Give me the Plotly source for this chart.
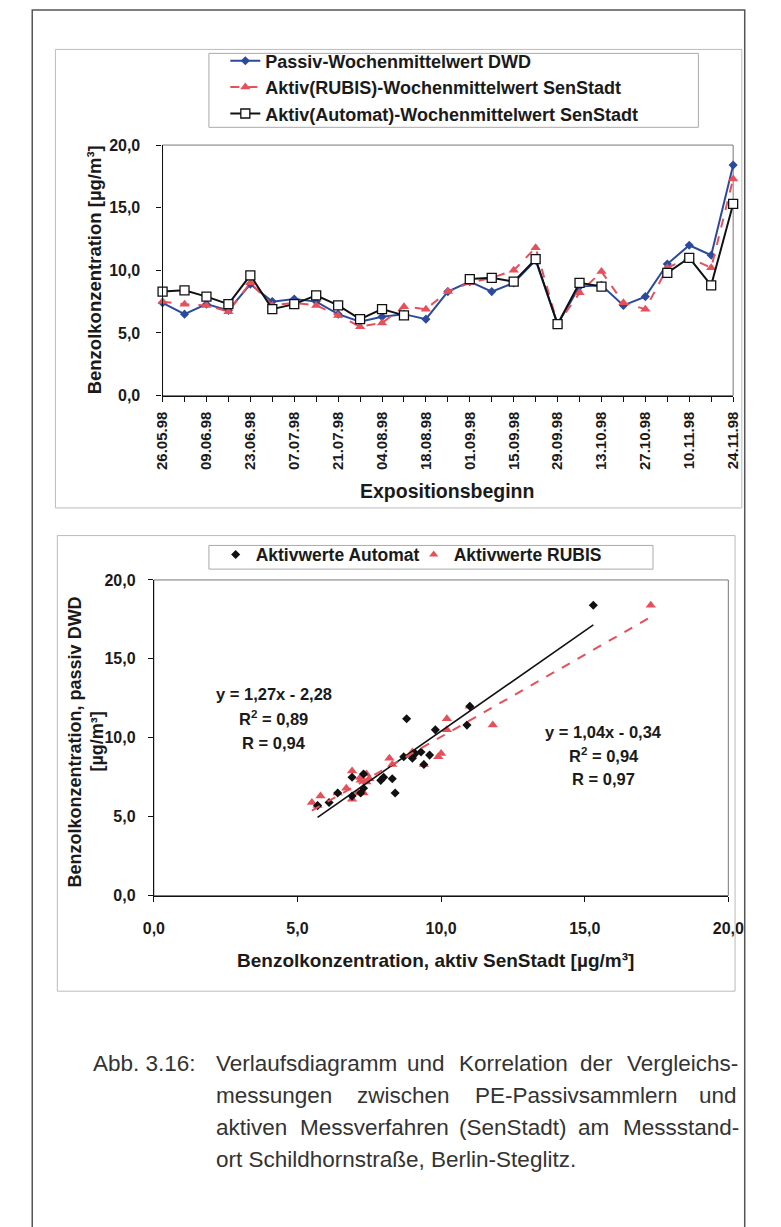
import plotly.graph_objects as go

W, H = 781, 1227

# ---------------- data ----------------
dates = ["26.05.98", "02.06.98", "09.06.98", "16.06.98", "23.06.98", "30.06.98",
         "07.07.98", "14.07.98", "21.07.98", "28.07.98", "04.08.98", "11.08.98",
         "18.08.98", "25.08.98", "01.09.98", "08.09.98", "15.09.98", "22.09.98",
         "29.09.98", "06.10.98", "13.10.98", "20.10.98", "27.10.98", "03.11.98",
         "10.11.98", "17.11.98", "24.11.98"]

passive_dwd = [7.4, 6.5, 7.3, 6.8, 8.9, 7.5, 7.7, 7.5, 6.5, 5.9, 6.3, 6.5, 6.1, 8.3,
               9.1, 8.3, 9.0, 10.8, 5.7, 8.7, 8.8, 7.2, 7.9, 10.5, 12.0, 11.2, 18.4]
aktiv_rubis = [7.5, 7.3, 7.2, 6.7, 9.0, 7.2, 7.4, 7.2, 6.4, 5.5, 5.8, 7.1, 6.9, 8.3,
               9.0, 9.4, 10.0, 11.8, 5.7, 8.2, 9.9, 7.4, 6.9, 10.2, 11.0, 10.2, 17.3]
aktiv_automat = [8.3, 8.4, 7.9, 7.3, 9.6, 6.9, 7.3, 8.0, 7.2, 6.1, 6.9, 6.4, None, None,
                 9.3, 9.4, 9.1, 10.9, 5.7, 9.0, 8.7, None, None, 9.8, 11.0, 8.8, 15.3]

y_ticks = [0, 5, 10, 15, 20]
y_ticklabels = ["0,0", "5,0", "10,0", "15,0", "20,0"]

# regression results printed in the chart
fit_automat = {"slope": 1.27, "intercept": -2.28, "r2": "0,89", "r": "0,94"}
fit_rubis = {"slope": 1.04, "intercept": -0.34, "r2": "0,94", "r": "0,97"}

series_names = ["Passiv-Wochenmittelwert DWD",
                "Aktiv(RUBIS)-Wochenmittelwert SenStadt",
                "Aktiv(Automat)-Wochenmittelwert SenStadt"]
scatter_names = ["Aktivwerte Automat", "Aktivwerte RUBIS"]

caption_label = "Abb. 3.16:"
caption_lines = [
    ("Verlaufsdiagramm und Korrelation der Vergleichs-", True),
    ("messungen zwischen PE-Passivsammlern und", True),
    ("aktiven Messverfahren (SenStadt) am Messstand-", True),
    ("ort Schildhornstraße, Berlin-Steglitz.", False),
]

# ---------------- styling ----------------
FONT = "Liberation Sans"
BLUE = "#2B4A9C"
RED = "#E5505A"
BLACK = "#111111"
TXT = "#1a1a1a"

# Arial/Helvetica advance widths (1/1000 em) for caption justification
_AW = {' ': 278, '.': 278, ',': 278, ':': 278, '-': 333, '(': 333, ')': 333,
       'A': 667, 'B': 667, 'E': 667, 'K': 667, 'M': 833, 'P': 667, 'S': 667, 'V': 667,
       'a': 556, 'b': 556, 'c': 500, 'd': 556, 'e': 556, 'f': 278, 'g': 556, 'h': 556,
       'i': 222, 'k': 500, 'l': 222, 'm': 833, 'n': 556, 'o': 556, 'p': 556, 'r': 333,
       's': 500, 't': 278, 'u': 556, 'v': 500, 'w': 722, 'z': 500, 'ß': 611}


def text_w(s, size):
    return sum(_AW.get(c, 556) for c in s) * size / 1000.0


def px(x):
    return x / W


def py(y):
    return 1 - y / H


fig = go.Figure()

# ---- top time-series chart ----
fig.add_trace(go.Scatter(
    x=dates, y=passive_dwd, name=series_names[0], mode="lines+markers",
    line=dict(color=BLUE, width=2), marker=dict(symbol="diamond", size=7, color=BLUE),
    xaxis="x", yaxis="y", legend="legend", cliponaxis=False))
fig.add_trace(go.Scatter(
    x=dates, y=aktiv_rubis, name=series_names[1], mode="lines+markers",
    line=dict(color=RED, width=2, dash="dash"),
    marker=dict(symbol="triangle-up", size=9, color=RED),
    xaxis="x", yaxis="y", legend="legend", cliponaxis=False))
fig.add_trace(go.Scatter(
    x=dates, y=aktiv_automat, name=series_names[2], mode="lines+markers",
    line=dict(color=BLACK, width=2), connectgaps=False,
    marker=dict(symbol="square", size=9, color="white", line=dict(color=BLACK, width=1.3)),
    xaxis="x", yaxis="y", legend="legend", cliponaxis=False))

# ---- bottom scatter chart ----
auto_x = [a for a, p in zip(aktiv_automat, passive_dwd) if a is not None]
auto_y = [p for a, p in zip(aktiv_automat, passive_dwd) if a is not None]
rub_x = list(aktiv_rubis)
rub_y = list(passive_dwd)

fig.add_trace(go.Scatter(
    x=rub_x, y=rub_y, name=scatter_names[1], mode="markers",
    marker=dict(symbol="triangle-up", size=9, color=RED),
    xaxis="x2", yaxis="y2", legend="legend2", showlegend=False))
fig.add_trace(go.Scatter(
    x=auto_x, y=auto_y, name=scatter_names[0], mode="markers",
    marker=dict(symbol="diamond", size=7, color=BLACK),
    xaxis="x2", yaxis="y2", legend="legend2"))
fig.add_trace(go.Scatter(
    x=[None], y=[None], name=scatter_names[1], mode="markers",
    marker=dict(symbol="triangle-up", size=8, color=RED),
    xaxis="x2", yaxis="y2", legend="legend2"))

ax = [min(auto_x), max(auto_x)]
fig.add_trace(go.Scatter(
    x=ax, y=[fit_automat["slope"] * v + fit_automat["intercept"] for v in ax],
    mode="lines", line=dict(color=BLACK, width=1.6), showlegend=False,
    xaxis="x2", yaxis="y2"))
rx = [min(rub_x), max(rub_x)]
fig.add_trace(go.Scatter(
    x=rx, y=[fit_rubis["slope"] * v + fit_rubis["intercept"] for v in rx],
    mode="lines", line=dict(color=RED, width=2, dash="dash"), showlegend=False,
    xaxis="x2", yaxis="y2"))

tickfont = dict(family=FONT, size=16, color=TXT, weight="bold")
datefont = dict(family=FONT, size=15, color=TXT, weight="bold")
axis_common = dict(ticks="outside", ticklen=5, tickcolor=BLACK, showline=True,
                   linecolor=BLACK, linewidth=1.2, showgrid=False, zeroline=False)

fig.update_layout(
    width=W, height=H, margin=dict(l=0, r=0, t=0, b=0),
    paper_bgcolor="white", plot_bgcolor="white",
    font=dict(family=FONT, color=TXT),
    xaxis=dict(domain=[px(157), px(748)], anchor="y", type="category",
               range=[0, len(dates) - 1], tickmode="array", tickvals=dates,
               ticktext=[d if i % 2 == 0 else "" for i, d in enumerate(dates)],
               tickangle=-90, tickfont=datefont, ticklabelstandoff=4, **axis_common),
    yaxis=dict(domain=[py(393), py(139)], anchor="x", range=[0, 20],
               tickmode="array", tickvals=y_ticks, ticktext=y_ticklabels,
               tickfont=tickfont, ticklabelstandoff=13, **axis_common),
    xaxis2=dict(domain=[px(148), px(743)], anchor="y2", range=[0, 20],
                tickmode="array", tickvals=y_ticks, ticktext=y_ticklabels,
                tickfont=tickfont, ticklabelstandoff=13, **axis_common),
    yaxis2=dict(domain=[py(900), py(580)], anchor="x2", range=[0, 20],
                tickmode="array", tickvals=y_ticks, ticktext=y_ticklabels,
                tickfont=tickfont, ticklabelstandoff=9, **axis_common),
    legend=dict(x=px(222), y=py(35), xanchor="left", yanchor="top",
                borderwidth=0, bgcolor="rgba(0,0,0,0)",
                font=dict(family=FONT, size=18, color=TXT, weight="bold"),
                tracegroupgap=0, itemwidth=30),
    legend2=dict(x=px(212), y=py(536), xanchor="left", yanchor="top",
                 orientation="h", borderwidth=0, bgcolor="rgba(0,0,0,0)",
                 entrywidth=153,
                 font=dict(family=FONT, size=17.5, color=TXT, weight="bold"),
                 itemwidth=30),
    showlegend=True,
)

shapes = [
    # page frame
    dict(type="rect", xref="paper", yref="paper", x0=px(22), x1=px(760),
         y0=py(1240), y1=py(2), line=dict(color="#555555", width=1.5)),
    # chart boxes
    dict(type="rect", xref="paper", yref="paper", x0=px(46), x1=px(757),
         y0=py(507), y1=py(42), line=dict(color="#BBBBBB", width=1)),
    dict(type="rect", xref="paper", yref="paper", x0=px(48), x1=px(750),
         y0=py(997), y1=py(535), line=dict(color="#BBBBBB", width=1)),
    # legend boxes
    dict(type="rect", xref="paper", yref="paper", x0=px(205), x1=px(712),
         y0=py(121), y1=py(46), line=dict(color="#AAAAAA", width=1), layer="below"),
    dict(type="rect", xref="paper", yref="paper", x0=px(205), x1=px(665),
         y0=py(569), y1=py(545), line=dict(color="#AAAAAA", width=1), layer="below"),
    # plot area borders (top/right)
    dict(type="rect", xref="paper", yref="paper", x0=px(157), x1=px(748),
         y0=py(393), y1=py(139), line=dict(color="#777777", width=1), layer="below"),
    dict(type="rect", xref="paper", yref="paper", x0=px(148), x1=px(743),
         y0=py(900), y1=py(580), line=dict(color="#777777", width=1), layer="below"),
]
fig.update_layout(shapes=shapes)

ann = []
# axis titles
ann.append(dict(text="Benzolkonzentration [µg/m³]", x=px(86), y=py(266), textangle=-90,
                font=dict(family=FONT, size=18.5, color=TXT, weight="bold")))
ann.append(dict(text="Expositionsbeginn", x=px(452), y=py(490),
                font=dict(family=FONT, size=19.5, color=TXT, weight="bold")))
ann.append(dict(text="Benzolkonzentration, passiv DWD", x=px(66), y=py(744),
                textangle=-90, font=dict(family=FONT, size=18, color=TXT, weight="bold")))
ann.append(dict(text="[µg/m³]", x=px(89), y=py(744), textangle=-90,
                font=dict(family=FONT, size=18, color=TXT, weight="bold")))
ann.append(dict(text="Benzolkonzentration, aktiv SenStadt [µg/m³]", x=px(440),
                y=py(966), font=dict(family=FONT, size=19, color=TXT, weight="bold")))
# regression texts
reg_font = dict(family=FONT, size=16.5, color=TXT, weight="bold")
for f, cx, ys in [(fit_automat, 272, (696, 720, 745)), (fit_rubis, 614, (734, 758, 782))]:
    sign = "-" if f["intercept"] < 0 else "+"
    eq = "y = %sx %s %s" % (("%.2f" % f["slope"]).replace(".", ","), sign,
                            ("%.2f" % abs(f["intercept"])).replace(".", ","))
    ann.append(dict(text=eq, x=px(cx), y=py(ys[0]), font=reg_font))
    ann.append(dict(text="R<sup>2</sup> = " + f["r2"], x=px(cx), y=py(ys[1]), font=reg_font))
    ann.append(dict(text="R = " + f["r"], x=px(cx), y=py(ys[2]), font=reg_font))

# caption (justified body with hanging label)
CAP = 22.5
cap_font = dict(family=FONT, size=CAP, color="#333333")
x_left, x_right = 210, 748
ann.append(dict(text=caption_label, x=px(83), y=py(1070), xanchor="left", font=cap_font))
for i, (line, justify) in enumerate(caption_lines):
    yy = 1070 + i * 32.5
    words = line.split(" ")
    if justify and len(words) > 1:
        natural = sum(text_w(w, CAP) for w in words)
        gap = (x_right - x_left - natural) / (len(words) - 1)
        xx = x_left
        for w in words:
            ann.append(dict(text=w, x=px(xx), y=py(yy), xanchor="left", font=cap_font))
            xx += text_w(w, CAP) + gap
    else:
        ann.append(dict(text=line, x=px(x_left), y=py(yy), xanchor="left", font=cap_font))

for a in ann:
    a.setdefault("xref", "paper")
    a.setdefault("yref", "paper")
    a.setdefault("showarrow", False)
    a.setdefault("xanchor", "center")
    a.setdefault("yanchor", "middle")
fig.update_layout(annotations=ann)

fig.write_html("out.html")
